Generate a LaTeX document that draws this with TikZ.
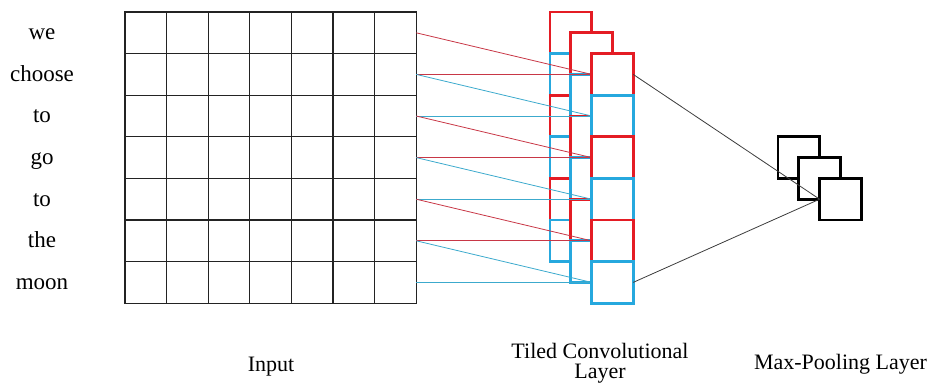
\documentclass[tikz,border=0pt]{standalone}
\usepackage{fontspec}
\setmainfont{Liberation Serif}
\definecolor{redc}{RGB}{228,28,36}
\definecolor{bluec}{RGB}{38,168,222}
\definecolor{redl}{RGB}{200,55,70}
\definecolor{bluel}{RGB}{60,170,205}
\definecolor{gridc}{RGB}{35,35,35}
\definecolor{linek}{RGB}{60,60,60}
\pgfdeclarelayer{back}
\pgfdeclarelayer{mid}
\pgfsetlayers{back,mid,main}
\begin{document}
\begin{tikzpicture}[x=1pt,y=-1pt,
  cell/.style={draw=none,minimum width=41.6pt,minimum height=41.6pt,inner sep=0pt,outer sep=0pt},
  gline/.style={draw=gridc,line width=1.1pt,line cap=rect},
  word/.style={anchor=base,font=\fontsize{23}{23}\selectfont,inner sep=0pt},
  lab/.style={anchor=base,font=\fontsize{22}{20}\selectfont,inner sep=0pt,align=center},
  rcell/.style={draw=redc,fill=white,line width=2.8pt,minimum width=41.6pt,minimum height=41.6pt,inner sep=0pt,outer sep=0pt},
  bcell/.style={rcell,draw=bluec},
  pool/.style={draw=black,fill=white,line width=2.8pt,minimum width=41.6pt,minimum height=41.6pt,inner sep=0pt,outer sep=0pt},
  rline/.style={draw=redl,line width=0.8pt},
  bline/.style={draw=bluel,line width=0.8pt},
  kline/.style={draw=linek,line width=0.8pt}
]
\useasboundingbox (0,0) rectangle (928,385);

\begin{pgfonlayer}{back}
% input grid
\foreach \i in {1,...,7}{
  \foreach \j in {1,...,7}{
    \node[cell] (g-\i-\j) at ({125+41.6*(\i-0.5)},{12+41.6*(\j-0.5)}) {};
  }
}
\foreach \i in {1,...,7}{
  \draw[gline] (g-\i-1.north west) -- (g-\i-7.south west);
  \draw[gline] (g-1-\i.north west) -- (g-7-\i.north east);
}
\draw[gline] (g-7-1.north east) -- (g-7-7.south east);
\draw[gline] (g-1-7.south west) -- (g-7-7.south east);
% words
\foreach \w [count=\j] in {we,choose,to,go,to,the,moon}{
  \node[word] (w\j) at (42,{12+41.6*(\j-0.5)+7}) {\w};
}
% back column
\foreach \k/\st in {1/rcell,2/bcell,3/rcell,4/bcell,5/rcell,6/bcell}{
  \node[\st] (b\k) at (570.8,{12+41.6*(\k-0.5)}) {};
}
% middle column
\foreach \k/\st in {1/rcell,2/bcell,3/rcell,4/bcell,5/rcell,6/bcell}{
  \node[\st] (m\k) at (591.6,{32.8+41.6*(\k-0.5)}) {};
}
\end{pgfonlayer}

% front column
\foreach \k/\st in {1/rcell,2/bcell,3/rcell,4/bcell,5/rcell,6/bcell}{
  \node[\st] (f\k) at (612.4,{53.6+41.6*(\k-0.5)}) {};
}

% connectors input -> tiled conv
\begin{pgfonlayer}{mid}
\foreach \k/\st in {1/rline,2/bline,3/rline,4/bline,5/rline,6/bline}{
  \pgfmathtruncatemacro\nj{\k+1}
  \draw[\st] (g-7-\k.east) -- (f\k.west);
  \draw[\st] (g-7-\nj.east) -- (f\k.west);
}
\end{pgfonlayer}

% max pooling
\node[pool] (p1) at (798.8,157.6) {};
\node[pool] (p2) at (819.6,178.4) {};
\node[pool] (p3) at (840.4,199.2) {};

\draw[kline] (f1.east) -- (p3.west);
\draw[kline] (f6.east) -- (p3.west);

% labels
\node[lab] (linput) at (271,371) {Input};
\node[lab] (ltiled) at (600,378) {Tiled Convolutional\\Layer};
\node[lab] (lpool) at (840.5,369.5) {Max-Pooling Layer};
\end{tikzpicture}
\end{document}
